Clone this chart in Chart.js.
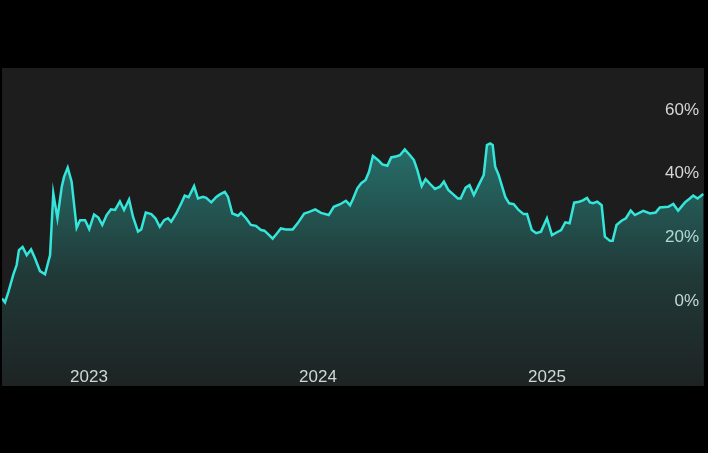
<!DOCTYPE html>
<html>
<head>
<meta charset="utf-8">
<script src="https://cdn.jsdelivr.net/npm/chart.js@4"></script>
<style>
  html, body { margin: 0; padding: 0; background: #000; }
  #wrap { width: 708px; height: 453px; position: relative; }
</style>
</head>
<body>
<div id="wrap"><canvas id="chart"></canvas></div>
<script>
// dates as fractional years, values in %
const dates = [
  2022.620, 2022.633, 2022.648, 2022.669, 2022.684, 2022.694, 2022.710, 2022.728, 2022.747, 2022.764,
  2022.786, 2022.808, 2022.830, 2022.844, 2022.862, 2022.881, 2022.891, 2022.907, 2022.924, 2022.946,
  2022.961, 2022.983, 2023.001, 2023.022, 2023.041, 2023.058, 2023.077, 2023.096, 2023.114, 2023.135,
  2023.153, 2023.175, 2023.192, 2023.214, 2023.228, 2023.248, 2023.272, 2023.290, 2023.309, 2023.328,
  2023.345, 2023.359, 2023.381, 2023.403, 2023.418, 2023.435, 2023.459, 2023.476, 2023.498, 2023.512,
  2023.534, 2023.556, 2023.572, 2023.593, 2023.607, 2023.626, 2023.651, 2023.664, 2023.686, 2023.707,
  2023.729, 2023.751, 2023.766, 2023.787, 2023.802, 2023.817, 2023.838, 2023.860, 2023.890, 2023.911,
  2023.940, 2023.962, 2023.988, 2024.013, 2024.047, 2024.069, 2024.097, 2024.122, 2024.140, 2024.152,
  2024.172, 2024.189, 2024.208, 2024.223, 2024.240, 2024.262, 2024.281, 2024.303, 2024.320, 2024.344,
  2024.358, 2024.379, 2024.402, 2024.419, 2024.434, 2024.453, 2024.470, 2024.492, 2024.511, 2024.533,
  2024.550, 2024.569, 2024.591, 2024.611, 2024.623, 2024.645, 2024.662, 2024.681, 2024.702, 2024.724,
  2024.738, 2024.752, 2024.763, 2024.774, 2024.789, 2024.818, 2024.835, 2024.855, 2024.876, 2024.898,
  2024.913, 2024.934, 2024.953, 2024.974, 2025.000, 2025.022, 2025.044, 2025.062, 2025.080, 2025.099,
  2025.119, 2025.141, 2025.157, 2025.175, 2025.188, 2025.202, 2025.220, 2025.239, 2025.253, 2025.275,
  2025.287, 2025.304, 2025.326, 2025.345, 2025.366, 2025.384, 2025.421, 2025.450, 2025.475, 2025.493,
  2025.530, 2025.552, 2025.573, 2025.603, 2025.624, 2025.639, 2025.658, 2025.683
];

const returns = [
  0.8, -0.4, 2.9, 8.2, 11.3, 16.0, 17.0, 14.4, 16.2, 13.4,
  9.4, 8.4, 14.4, 33.8, 26.0, 35.9, 39.0, 41.9, 37.5, 23.0,
  25.4, 25.4, 22.6, 27.2, 26.2, 23.9, 27.0, 28.8, 28.6, 31.3,
  28.6, 31.9, 26.5, 21.8, 22.5, 27.8, 27.3, 26.0, 23.3, 25.4,
  26.0, 24.9, 27.5, 30.7, 33.1, 32.6, 36.1, 32.2, 32.7, 32.4,
  31.0, 32.7, 33.5, 34.3, 32.7, 27.5, 26.8, 27.7, 26.0, 23.9,
  23.6, 22.3, 22.1, 20.7, 19.6, 20.9, 22.8, 22.5, 22.5, 24.4,
  27.5, 28.0, 28.8, 27.7, 27.0, 29.6, 30.4, 31.5, 30.1, 31.9,
  35.4, 37.0, 38.0, 40.6, 45.6, 44.3, 42.9, 42.5, 45.1, 45.5,
  45.8, 47.6, 45.8, 44.3, 41.1, 36.1, 38.3, 36.6, 35.2, 35.9,
  37.5, 34.9, 33.5, 32.2, 32.2, 35.6, 36.4, 33.3, 36.4, 39.6,
  49.0, 49.5, 49.0, 42.2, 39.6, 32.7, 30.7, 30.4, 28.6, 27.3,
  27.3, 22.3, 21.3, 21.8, 26.0, 20.7, 21.6, 22.3, 24.7, 24.4,
  30.9, 31.2, 31.6, 32.4, 31.0, 30.7, 31.2, 30.1, 20.2, 18.9,
  18.9, 23.9, 25.2, 26.0, 28.4, 27.0, 28.3, 27.5, 27.8, 29.4,
  29.6, 30.5, 28.4, 31.0, 32.2, 33.1, 32.2, 33.6
];

const yearTicks = [2023, 2024, 2025];
const pctTicks = [0, 20, 40, 60];

const points = dates.map((d, i) => ({ x: d, y: returns[i] }));

// dark panel behind the plot
const panelBg = {
  id: "panelBg",
  beforeDraw(chart) {
    const { ctx, chartArea: a } = chart;
    ctx.save();
    ctx.fillStyle = "#1d1d1d";
    ctx.fillRect(a.left, a.top, a.right - a.left, a.bottom - a.top);
    ctx.restore();
  }
};

const LINE = "#34e6da";
const FONT = { family: "'Liberation Sans', Arial, sans-serif", size: 17 };

new Chart(document.getElementById("chart"), {
  type: "line",
  data: {
    datasets: [{
      data: points,
      borderColor: LINE,
      borderWidth: 2.5,
      pointRadius: 0,
      tension: 0,
      fill: "start",
      backgroundColor: (ctx) => {
        const a = ctx.chart.chartArea;
        if (!a) return "rgba(52,230,218,0.2)";
        const g = ctx.chart.ctx.createLinearGradient(0, 140, 0, a.bottom);
        g.addColorStop(0, "rgba(52,230,218,0.42)");
        g.addColorStop(0.55, "rgba(52,230,218,0.14)");
        g.addColorStop(1, "rgba(52,230,218,0.03)");
        return g;
      }
    }]
  },
  options: {
    responsive: true,
    maintainAspectRatio: false,
    animation: false,
    layout: { padding: { left: 2, right: 4, top: 68, bottom: 67 } },
    plugins: {
      legend: { display: false },
      tooltip: { enabled: false }
    },
    scales: {
      x: {
        type: "linear",
        min: 2022.620,
        max: 2025.686,
        grid: { display: false, drawTicks: false },
        border: { display: false },
        afterFit: (s) => { s.height = 0; },
        afterBuildTicks: (s) => { s.ticks = yearTicks.map(v => ({ value: v })); },
        ticks: {
          mirror: true,
          padding: -2,
          color: "#d6d6d6",
          font: FONT,
          callback: (v) => String(v)
        }
      },
      y: {
        position: "right",
        min: -26.7,
        max: 73.2,
        grid: { display: false, drawTicks: false },
        border: { display: false },
        afterFit: (s) => { s.width = 0; },
        afterBuildTicks: (s) => { s.ticks = pctTicks.map(v => ({ value: v })); },
        ticks: {
          mirror: true,
          padding: -5,
          color: "#d6d6d6",
          font: FONT,
          callback: (v) => v + "%"
        }
      }
    }
  },
  plugins: [panelBg]
});
</script>
</body>
</html>
